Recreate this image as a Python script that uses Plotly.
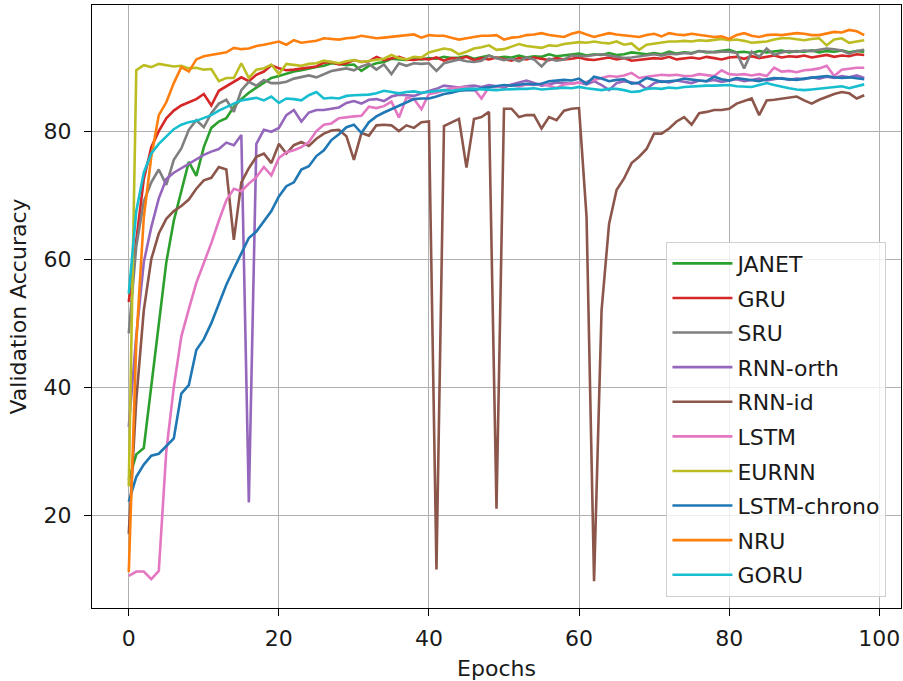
import plotly.graph_objects as go

epochs = list(range(99))

janet = [25.5, 29.5, 30.5, 40, 50, 59.5, 66, 70.5, 75.2, 73,
         77.5, 80.5, 81.5, 82, 83.8, 85, 86, 86.8, 87.5, 88.3,
         88.6, 89, 89.3, 89.5, 89.8, 90, 90.2, 90.6, 90.5, 90.3,
         90.4, 89.4, 90.2, 90.6, 90.8, 91.3, 91.2, 91.1, 91.3, 91.2,
         91.4, 91.3, 91.6, 91.4, 91.5, 91.7, 91.3, 91.5, 91.8, 91.4,
         91.6, 91.5, 91.8, 91.5, 91.7, 91.6, 92.0, 91.7, 91.8, 91.9,
         92.1, 91.8, 92.0, 91.9, 92.2, 91.9, 92.0, 92.3, 92.1, 92.0,
         92.2, 92.0, 92.4, 92.1, 92.3, 92.2, 92.5, 92.3, 92.4, 92.6,
         92.7, 92.3, 92.4, 92.2, 92.5, 92.3, 92.4, 92.6, 92.3, 92.5,
         92.4, 92.6, 92.3, 92.5, 92.4, 92.6, 92.3, 92.5, 92.4]

gru = [53.3, 63, 72.5, 77.5, 80, 82, 83.2, 84, 84.5, 85,
       85.8, 84, 86.3, 87, 87.8, 88.4, 87.8, 88.8, 89.3, 90.3,
       89.8, 89.5, 89.6, 89.8, 90, 90.1, 90.7, 90.8, 90.4, 90.6,
       91.1, 90.8, 90.9, 91.6, 91.1, 91.3, 91.6, 91.2, 91.1, 91.3,
       91.2, 91.5, 91.0, 91.4, 91.3, 91.6, 91.1, 91.4, 91.2, 91.5,
       91.3, 91.0, 91.4, 91.2, 91.5, 91.3, 91.1, 91.4, 91.2, 91.3,
       91.5, 91.2, 91.1, 91.3, 91.5, 91.2, 91.4, 91.0, 91.1, 91.2,
       91.4, 91.3, 91.6, 91.2, 91.4, 91.5, 91.3, 91.6, 91.4, 91.2,
       91.5, 91.6, 91.3, 91.7, 91.4, 91.6, 91.8, 91.5, 91.7, 91.6,
       91.8, 91.5, 91.7, 91.9, 91.6, 91.8, 91.7, 92.0, 91.9]

sru = [48.4, 62, 69, 72, 74, 71.6, 75.5, 77.3, 80.2, 81.7,
       80.6, 82.8, 84.3, 84.9, 83, 86.4, 87.7, 87.1, 88, 87.5,
       87.5, 87.7, 88.2, 88.5, 88.7, 88.4, 88.9, 89.4, 89.6, 89.8,
       89.5, 90.1, 90.5, 89.6, 90.4, 88.9, 90.6, 90.2, 90.6, 90.5,
       90.6, 89.4, 90.6, 90.9, 91.2, 90.9, 90.8, 91.0, 91.8, 91.4,
       91.1, 91.3, 90.9, 91.5, 91.2, 90.1, 91.3, 91.0, 91.2, 91.8,
       91.8, 91.7, 91.9, 92.0, 91.8, 91.6, 91.4, 91.5, 91.7, 91.9,
       92.0, 91.8, 92.1, 92.0, 92.2, 92.1, 92.5, 92.4, 92.3, 92.4,
       92.4, 92.2, 89.8, 92.4, 91.6, 92.9, 91.9, 92.3, 92.5, 92.4,
       92.6, 92.5, 92.7, 92.9, 92.8, 92.6, 92.1, 92.5, 92.7]

rnn_orth = [33.8, 48, 59.5, 65, 69.5, 72.5, 73.5, 74.2, 74.8, 75.5,
            76.3, 76.8, 77.2, 78.2, 77.8, 79.4, 22, 78, 80.2, 79.9,
            80.5, 82.5, 83.3, 81.5, 82.9, 83.3, 83.3, 83.5, 83.7, 84.4,
            84.7, 84.3, 84.9, 85, 84.7, 85.4, 85.7, 85.6, 85.5, 85.9,
            86.2, 86.6, 87.1, 86.9, 86.8, 87.0, 87.1, 86.9, 87.2, 87.0,
            86.8, 87.3, 87.6, 87.9, 87.5, 87.1, 87.3, 87.6, 87.5, 87.4,
            87.6, 87.3, 87.8, 87.2, 86.4, 87.5, 87.8, 87.6, 87.4, 86.6,
            87.5, 87.8, 87.6, 87.9, 87.7, 87.5, 87.9, 87.8, 88.0, 87.7,
            87.9, 88.1, 87.8, 88.0, 88.2, 87.9, 88.1, 88.3, 88.0, 88.2,
            88.1, 88.4, 88.2, 88.5, 88.3, 88.6, 88.4, 88.7, 88.3]

rnn_id = [17.1, 38, 52, 60, 64, 66.3, 67.5, 68.3, 69.3, 71,
          72.3, 72.7, 74.4, 74, 63, 72, 74.2, 76, 76.5, 75,
          78, 76.5, 77.8, 78.3, 77.7, 78.8, 79.6, 80.1, 80.2, 79.2,
          75.5, 79.7, 79.3, 80.9, 81, 80.9, 80, 80.9, 80.5, 81.4,
          81.5, 11.5, 80.8, 81.4, 81.9, 74.3, 81.9, 82.2, 83, 21,
          83.5, 83.5, 82.2, 82.5, 82.5, 80.4, 82.2, 81.7, 83.2, 83.5,
          83.6, 66.6, 9.7, 52, 65.5, 70.8, 72.6, 75, 76, 77.2,
          79.6, 79.6, 80.4, 81.5, 82.2, 81, 82.8, 83, 83.3, 83.3,
          83.5, 84.3, 84.7, 85.1, 82.5, 84.8, 84.9, 85.1, 85.2, 85.4,
          84.8, 84.3, 84.9, 85.4, 85.8, 86.1, 85.9, 85.1, 85.6]

lstm = [10.5, 11.2, 11.2, 10.0, 11.3, 30, 40, 47.9, 52.2, 56.3,
        59.4, 62.5, 66, 69.2, 71, 70.6, 71.8, 72.8, 74.4, 73.1,
        75.8, 76.7, 77, 77.5, 78.3, 80, 81, 81.2, 82, 82.2,
        82.3, 82.4, 83.8, 83.6, 83.9, 84.6, 82.1, 85.2, 85, 83.4,
        85.8, 86, 86.4, 86.7, 86.8, 86.9, 86.6, 85.1, 86.9, 86.9,
        87.1, 87.2, 87.0, 87.3, 87.2, 87.4, 87.1, 86.7, 87.3, 87.4,
        87.6, 87.7, 88.0, 88.3, 88.6, 88.5, 88.7, 89.1, 88.3, 88.5,
        88.6, 88.8, 88.7, 88.8, 88.6, 88.6, 88.9, 88.8, 88.6, 89.5,
        88.9, 88.8, 88.9, 88.7, 88.9, 88.6, 89.9, 89.3, 89.4, 89.2,
        89.5, 89.6, 89.8, 90.2, 88.6, 89.6, 89.8, 89.9, 89.9]

eurnn = [24.5, 89.5, 90.3, 90, 90.5, 90.3, 90.1, 90.2, 89.8, 89.9,
         89.6, 89.7, 87.8, 88.3, 88.3, 90.6, 88.3, 89.6, 89.8, 90.4,
         88.9, 90.5, 90.3, 90.2, 90.5, 90.6, 91.0, 90.8, 90.6, 90.9,
         91.1, 90.8, 91.0, 91.1, 91.3, 91.9, 91.4, 91.2, 91.6, 91.5,
         92.3, 92.6, 92.9, 92.7, 92.0, 92.4, 92.9, 93.1, 93.4, 92.7,
         92.8, 93.2, 93.6, 93.3, 93.1, 93.0, 93.4, 93.3, 93.6, 93.8,
         93.9, 93.8, 94.0, 93.8, 93.7, 94.0, 93.5, 93.7, 92.7, 93.5,
         93.7, 93.8, 94.0, 94.0, 94.1, 94.0, 94.2, 94.1, 94.3, 94.4,
         94.2, 94.3, 94.1, 93.8, 93.9, 94.0, 94.3, 94.5, 94.5, 94.3,
         94.2, 94.4, 94.5, 93.4, 94.3, 94.5, 93.8, 94.0, 94.2]

lstm_chrono = [22.1, 26, 27.9, 29.3, 29.6, 30.8, 32, 39, 40.3, 45.8,
               47.5, 50, 53, 56, 58.5, 61, 63.3, 64.3, 66, 67.5,
               69.8, 71.4, 72, 74, 74.5, 76.1, 77, 78.6, 79.5, 80.6,
               81, 79.7, 81.4, 82.3, 82.9, 83.4, 84, 84.4, 85, 85.1,
               85.1, 85.4, 85.8, 86.0, 86.3, 86.4, 86.4, 86.7, 86.9, 87.0,
               87.2, 87.1, 87.3, 87.4, 87.3, 87.4, 87.8, 87.9, 88.0, 87.9,
               88.2, 87.4, 88.5, 88.2, 87.8, 88.0, 88.1, 87.4, 87.6, 88.3,
               88.0, 87.7, 87.8, 87.9, 88.2, 88.0, 87.9, 87.8, 88.5, 88.1,
               87.9, 88.3, 88.1, 88.0, 87.8, 88.1, 88.3, 88.2, 88.1, 88.0,
               88.2, 88.3, 88.4, 88.6, 88.4, 88.3, 88.4, 88.2, 88.1]

nru = [11.1, 47, 66.5, 76, 82.5, 84.5, 87.5, 90, 89.3, 91.2,
       91.7, 91.9, 92.0, 92.3, 93.0, 92.8, 92.9, 93.3, 93.5, 93.8,
       94.0, 93.5, 94.2, 93.8, 93.9, 94.1, 94.5, 94.4, 94.3, 94.5,
       94.6, 94.9, 94.7, 94.5, 94.6, 94.7, 94.9, 95.0, 95.1, 94.6,
       95.0, 94.9, 94.9, 94.6, 94.3, 94.5, 94.7, 94.9, 94.9, 95.0,
       94.3, 94.6, 94.7, 95.0, 95.1, 95.3, 95.0, 94.8, 94.7, 95.2,
       95.5, 95.1, 94.7, 95.0, 95.3, 95.1, 95.0, 94.8, 94.7, 95.0,
       95.2, 94.8, 95.3, 95.1, 95.0, 95.2, 95.0, 94.8, 94.7, 94.8,
       94.4, 95.0, 95.3, 94.9, 94.7, 95.0, 95.1, 95.0, 95.2, 95.3,
       95.2, 95.0, 95.0, 95.3, 95.5, 95.4, 95.8, 95.6, 95.0]

goru = [54.6, 67.5, 73.5, 76.5, 78, 79.2, 80.3, 81, 81.4, 81.6,
        82, 82.5, 83.2, 83.8, 84.3, 84.8, 85, 85.2, 84.8, 85.4,
        84.4, 85.1, 85, 84.8, 85.6, 86.1, 85.1, 85.2, 85.1, 85.5,
        85.6, 85.6, 85.7, 85.9, 86.3, 86.1, 85.9, 86.1, 86.2, 86.0,
        86.1, 86.2, 86.4, 86.3, 86.5, 86.6, 86.6, 86.5, 86.4, 86.4,
        86.5, 86.6, 86.6, 86.6, 86.7, 86.5, 86.6, 86.7, 86.8, 86.7,
        86.9, 86.7, 86.5, 86.4, 86.6, 86.6, 86.4, 86.1, 86.2, 86.6,
        86.7, 86.6, 86.8, 86.7, 86.9, 87.0, 87.0, 87.1, 87.1, 87.2,
        87.2, 87.0, 87.0, 86.9, 87.2, 87.5, 87.2, 86.9, 86.7, 86.5,
        86.4, 86.5, 86.6, 86.7, 86.9, 87.0, 86.7, 87.0, 87.3]

names = ["JANET", "GRU", "SRU", "RNN-orth", "RNN-id", "LSTM", "EURNN",
         "LSTM-chrono", "NRU", "GORU"]
series = [janet, gru, sru, rnn_orth, rnn_id, lstm, eurnn, lstm_chrono, nru, goru]
colors = ["#2ca02c", "#d62728", "#7f7f7f", "#9467bd", "#8c564b", "#e377c2",
          "#bcbd22", "#1f77b4", "#ff7f0e", "#17becf"]

x_ticks = [0, 20, 40, 60, 80, 100]
y_ticks = [20, 40, 60, 80]

fig = go.Figure()
for n, s, c in zip(names, series, colors):
    fig.add_trace(go.Scatter(x=epochs, y=s, mode="lines", name=n,
                             legendgroup=n,
                             line=dict(color=c, width=2.6)))

font = dict(family="DejaVu Sans", size=22, color="#1a1a1a")
axis_common = dict(showline=True, mirror=True, linecolor="black", linewidth=1.3,
                   showgrid=True, gridcolor="#b0b0b0", gridwidth=1.3,
                   zeroline=False, ticks="outside", ticklen=7, tickwidth=1.3,
                   tickcolor="black", tickfont=font, automargin=False)

fig.update_layout(
    width=903, height=681,
    margin=dict(l=92, r=2, t=5, b=73),
    paper_bgcolor="white", plot_bgcolor="white",
    font=font,
    showlegend=True,
    legend=dict(x=0.982, y=0.019, xanchor="right", yanchor="bottom",
                bgcolor="rgba(255,255,255,0.8)", bordercolor="#d0d0d0",
                borderwidth=1, font=font, traceorder="grouped",
                tracegroupgap=3, itemwidth=60),
    xaxis=dict(range=[-4.9, 102.9], tickvals=x_ticks, ticklabelstandoff=3,
               title=dict(text="Epochs", font=font, standoff=14), **axis_common),
    yaxis=dict(range=[5.5, 99.7], tickvals=y_ticks, ticklabelstandoff=8,
               title=dict(text="Validation Accuracy", font=font, standoff=10),
               **axis_common),
)

fig.write_html("out.html", config={"displayModeBar": False},
               post_script="document.body.style.margin='0';")
